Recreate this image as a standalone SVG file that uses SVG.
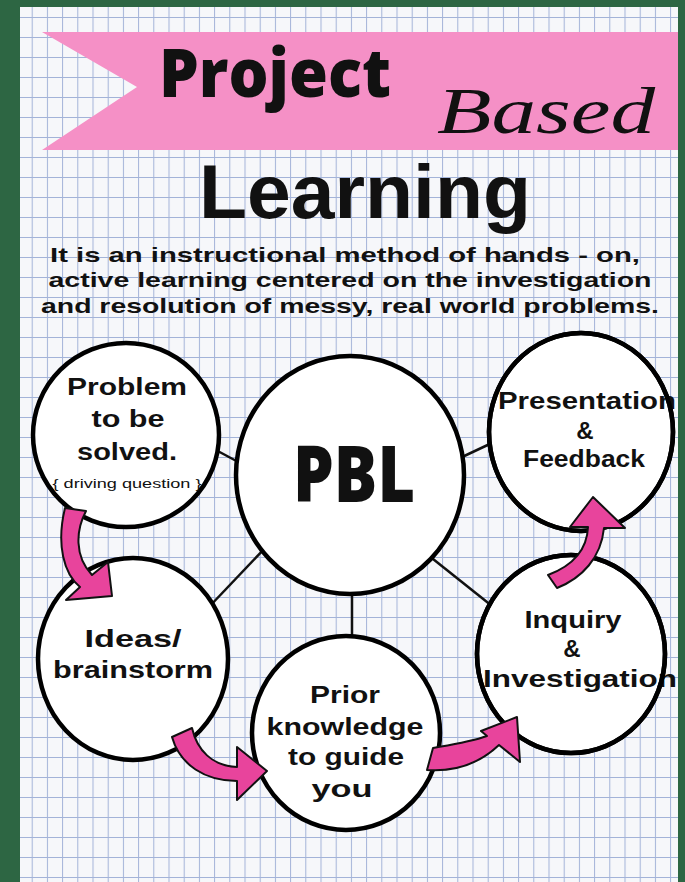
<svg xmlns="http://www.w3.org/2000/svg" width="685" height="882" viewBox="0 0 685 882">
<style>
.t{font-family:"Liberation Sans","Arial","DejaVu Sans",sans-serif;fill:#111;text-anchor:middle}
.h{font-family:"Open Sans","Noto Sans","DejaVu Sans",sans-serif;fill:#111;text-anchor:middle;font-weight:800}
.lbl{font-size:24px;font-weight:700}
.body{font-size:21px;font-weight:700}
.node{fill:#fff;stroke:#000;stroke-width:4.5}
.ring{fill:none;stroke:#000;stroke-width:4.5}
.conn line{stroke:#111;stroke-width:2.5}
.arrow{fill:#e8449c;stroke:#111;stroke-width:2;stroke-linejoin:round}
</style>
<defs>
<pattern id="grid" width="15.2" height="20" patternUnits="userSpaceOnUse" x="1.3" y="-3">
<rect width="15.2" height="20" fill="#f6f7fa"/>
<path d="M0.5,0 V20 M0,0.5 H15.2" stroke="#a3b3d8" stroke-width="1" fill="none"/>
</pattern>
</defs>
<rect width="685" height="882" fill="#2d6643"/>
<rect x="20" y="7" width="658" height="875" fill="url(#grid)"/>
<g id="banner">
<polygon points="42,32 678,32 678,150 42,150 137,87" fill="#f590c6"/>
<text class="h" x="275" y="97" font-size="68" textLength="232" lengthAdjust="spacingAndGlyphs">Project</text>
<text x="546" y="133" text-anchor="middle" font-family="Liberation Serif, serif" font-style="italic" font-size="66" fill="#111" textLength="218" lengthAdjust="spacingAndGlyphs">Based</text>
</g>
<g id="title">
<text class="t" x="365" y="218" font-size="76" font-weight="700" textLength="332" lengthAdjust="spacingAndGlyphs">Learning</text>
</g>
<g id="definition">
<text class="t body" x="345" y="262" textLength="590" lengthAdjust="spacingAndGlyphs">It is an instructional method of hands - on,</text>
<text class="t body" x="350" y="287" textLength="603" lengthAdjust="spacingAndGlyphs">active learning centered on the investigation</text>
<text class="t body" x="350" y="313" textLength="618" lengthAdjust="spacingAndGlyphs">and resolution of messy, real world problems.</text>
</g>
<g id="connectors" class="conn">
<line x1="214" y1="449" x2="242" y2="464"/>
<line x1="460" y1="458" x2="494" y2="442"/>
<line x1="266" y1="547" x2="208" y2="608"/>
<line x1="352" y1="588" x2="352" y2="642"/>
<line x1="428" y1="555" x2="492" y2="606"/>
</g>
<g id="problem">
<ellipse class="node" cx="126" cy="435" rx="93" ry="92"/>
<text class="t lbl" x="127" y="395" textLength="120" lengthAdjust="spacingAndGlyphs">Problem</text>
<text class="t lbl" x="128" y="427" textLength="73" lengthAdjust="spacingAndGlyphs">to be</text>
<text class="t lbl" x="127" y="460" textLength="100" lengthAdjust="spacingAndGlyphs">solved.</text>
<text class="t" x="127" y="488" font-size="13" font-weight="400" fill="#333" textLength="149" lengthAdjust="spacingAndGlyphs">{ driving question }</text>
</g>
<g id="pbl">
<ellipse class="node" cx="350" cy="475" rx="114" ry="119"/>
<text class="h" x="354" y="502" font-size="78" textLength="122" lengthAdjust="spacingAndGlyphs">PBL</text>
</g>
<g id="presentation">
<ellipse class="node" cx="581" cy="432" rx="92" ry="99"/>
<text class="t lbl" x="587" y="409" textLength="178" lengthAdjust="spacingAndGlyphs">Presentation</text>
<text class="t lbl" x="585" y="439">&amp;</text>
<text class="t lbl" x="584" y="467" textLength="122" lengthAdjust="spacingAndGlyphs">Feedback</text>
<ellipse class="ring" cx="581" cy="432" rx="92" ry="99"/>
</g>
<g id="ideas">
<ellipse class="node" cx="133" cy="659" rx="95" ry="101"/>
<text class="t lbl" x="133" y="647" textLength="97" lengthAdjust="spacingAndGlyphs">Ideas/</text>
<text class="t lbl" x="133" y="678" textLength="160" lengthAdjust="spacingAndGlyphs">brainstorm</text>
</g>
<g id="prior">
<ellipse class="node" cx="346" cy="733" rx="94" ry="97"/>
<text class="t lbl" x="345" y="703" textLength="70" lengthAdjust="spacingAndGlyphs">Prior</text>
<text class="t lbl" x="345" y="735" textLength="157" lengthAdjust="spacingAndGlyphs">knowledge</text>
<text class="t lbl" x="346" y="765" textLength="116" lengthAdjust="spacingAndGlyphs">to guide</text>
<text class="t lbl" x="342" y="797" textLength="61" lengthAdjust="spacingAndGlyphs">you</text>
</g>
<g id="inquiry">
<ellipse class="node" cx="571" cy="654" rx="94" ry="99"/>
<text class="t lbl" x="573" y="628" textLength="97" lengthAdjust="spacingAndGlyphs">Inquiry</text>
<text class="t lbl" x="572" y="657">&amp;</text>
<text class="t lbl" x="580" y="687" textLength="194" lengthAdjust="spacingAndGlyphs">Investigation</text>
<ellipse class="ring" cx="571" cy="654" rx="94" ry="99"/>
</g>
<g id="arrows">
<path class="arrow" d="M65,508 L86,511 C 76,530 74,556 92,575 L108,562 L112,596 L66,600 L80,587 C 64,574 56,545 65,508 Z"/>
<path class="arrow" d="M172,737 L192,728 C 197,750 212,766 237,767 L237,747 L267,771 L237,800 L237,781 C 205,781 180,765 172,737 Z"/>
<path class="arrow" d="M427,770 L433,748 C 450,745 470,742 487,736 L481,731 L517,717 L520,762 L499,745 C 480,763 455,772 427,770 Z"/>
<path class="arrow" d="M557,588 C 582,578 601,558 604,528 L625,528 L593,497 L570,527 L588,527 C 587,550 572,566 548,575 Z"/>
</g>
</svg>
